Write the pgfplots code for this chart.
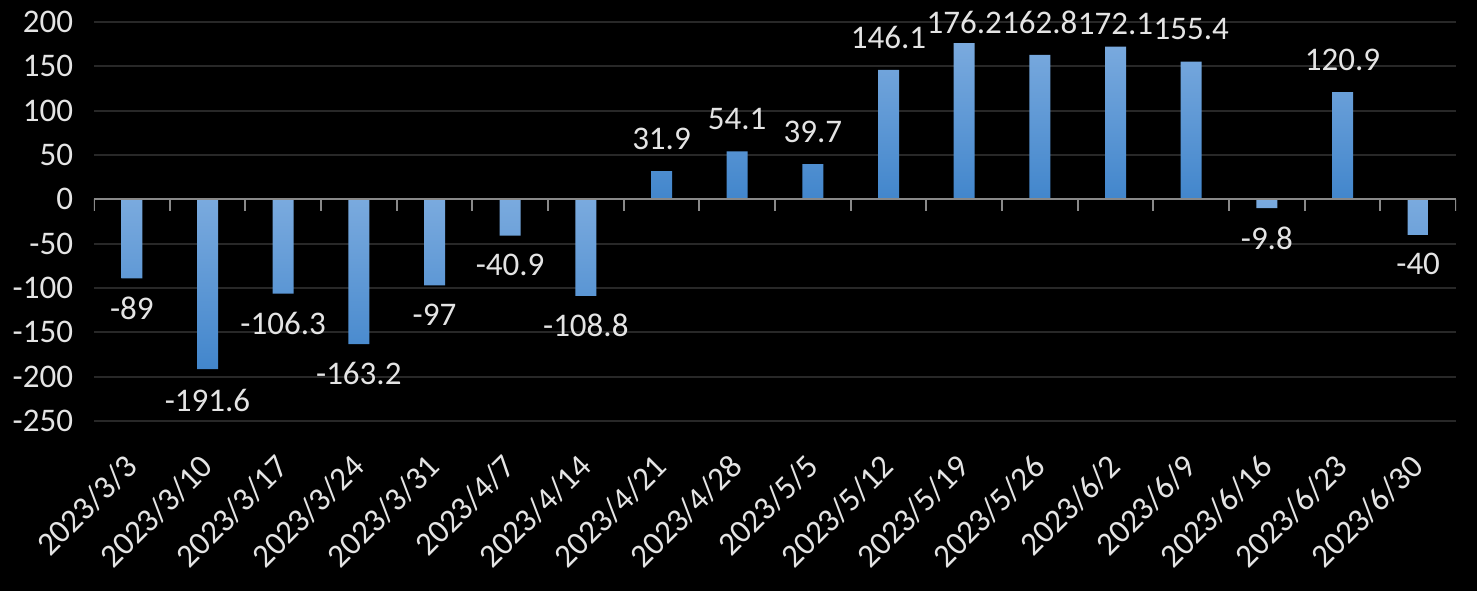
\documentclass[border=0pt]{standalone}
\usepackage{fontspec}
\setmainfont{Carlito}
\usepackage{pgfplots}
\usepackage{pgfplotstable}
\pgfplotsset{compat=1.18}
\definecolor{bartop}{RGB}{122,170,222}
\definecolor{barbot}{RGB}{66,134,204}
\definecolor{gridc}{RGB}{40,40,40}
\definecolor{axisc}{RGB}{137,137,137}
\definecolor{txt}{RGB}{228,228,228}
\pgfplotstableread{
x y label dy
7 31.9 31.9 0.5
8 54.1 54.1 0.5
9 39.7 39.7 0.5
10 146.1 146.1 0.5
11 176.2 176.2 -5.7
12 162.8 162.8 0.5
13 172.1 172.1 -4.3
14 155.4 155.4 0.5
16 120.9 120.9 0.5
}\postable
\pgfplotstableread{
x y label dy
0 -89 -89 1
1 -191.6 -191.6 0
2 -106.3 -106.3 1
3 -163.2 -163.2 1
4 -97 -97 1
5 -40.9 -40.9 1
6 -108.8 -108.8 1
15 -9.8 -9.8 0.5
17 -40 -40 1
}\negtable
\begin{document}
\begin{tikzpicture}
\fill[black] (0,0) rectangle (738.5pt,295.5pt);
\begin{axis}[
  at={(47pt,85pt)}, anchor=south west,
  scale only axis, width=681pt, height=199.5pt,
  xmin=-0.5, xmax=17.5, ymin=-250, ymax=200,
  axis line style={draw=none},
  ytick={-250,-200,-150,-100,-50,0,50,100,150,200},
  yticklabels={-250,-200,-150,-100,-50,0,50,100,150,200},
  xtick={0,...,17},
  xticklabels={2023/3/3,2023/3/10,2023/3/17,2023/3/24,2023/3/31,2023/4/7,2023/4/14,2023/4/21,2023/4/28,2023/5/5,2023/5/12,2023/5/19,2023/5/26,2023/6/2,2023/6/9,2023/6/16,2023/6/23,2023/6/30},
  major tick length=0pt,
  ymajorgrids, grid style={gridc, line width=1pt},
  tick label style={font=\fontsize{16.5}{18}\selectfont, text=txt},
  yticklabel style={anchor=east, inner sep=0pt, xshift=-10.3pt},
  xticklabel style={xshift=-4.5pt, yshift=-15.5pt, rotate=45, anchor=north east, inner sep=0pt},
  ybar, bar width=10.5pt, bar shift=0pt,
]
\addplot[draw=none, top color=bartop, bottom color=barbot,
  nodes near coords, point meta=explicit symbolic,
  visualization depends on={\thisrow{dy}\as\dy},
  nodes near coords style={font=\fontsize{16.5}{18}\selectfont, text=txt, inner xsep=0pt, inner ysep=10pt, anchor=south, yshift=\dy pt}]
  table[x=x, y=y, meta=label] {\postable};
\addplot[draw=none, top color=bartop, bottom color=barbot,
  nodes near coords, point meta=explicit symbolic,
  visualization depends on={\thisrow{dy}\as\dy},
  nodes near coords style={font=\fontsize{16.5}{18}\selectfont, text=txt, inner xsep=0pt, inner ysep=10pt, anchor=north, yshift=\dy pt}]
  table[x=x, y=y, meta=label] {\negtable};
\draw[axisc, line width=1pt] (axis cs:-0.5,0) -- (axis cs:17.5,0);
\pgfplotsinvokeforeach{-0.5,0.5,...,17.5}{\draw[axisc, line width=1pt] (axis cs:#1,0) -- ++(0pt,-6pt);}
\end{axis}
\pgfresetboundingbox
\useasboundingbox (0,0) rectangle (738.5pt,295.5pt);
\end{tikzpicture}
\end{document}
